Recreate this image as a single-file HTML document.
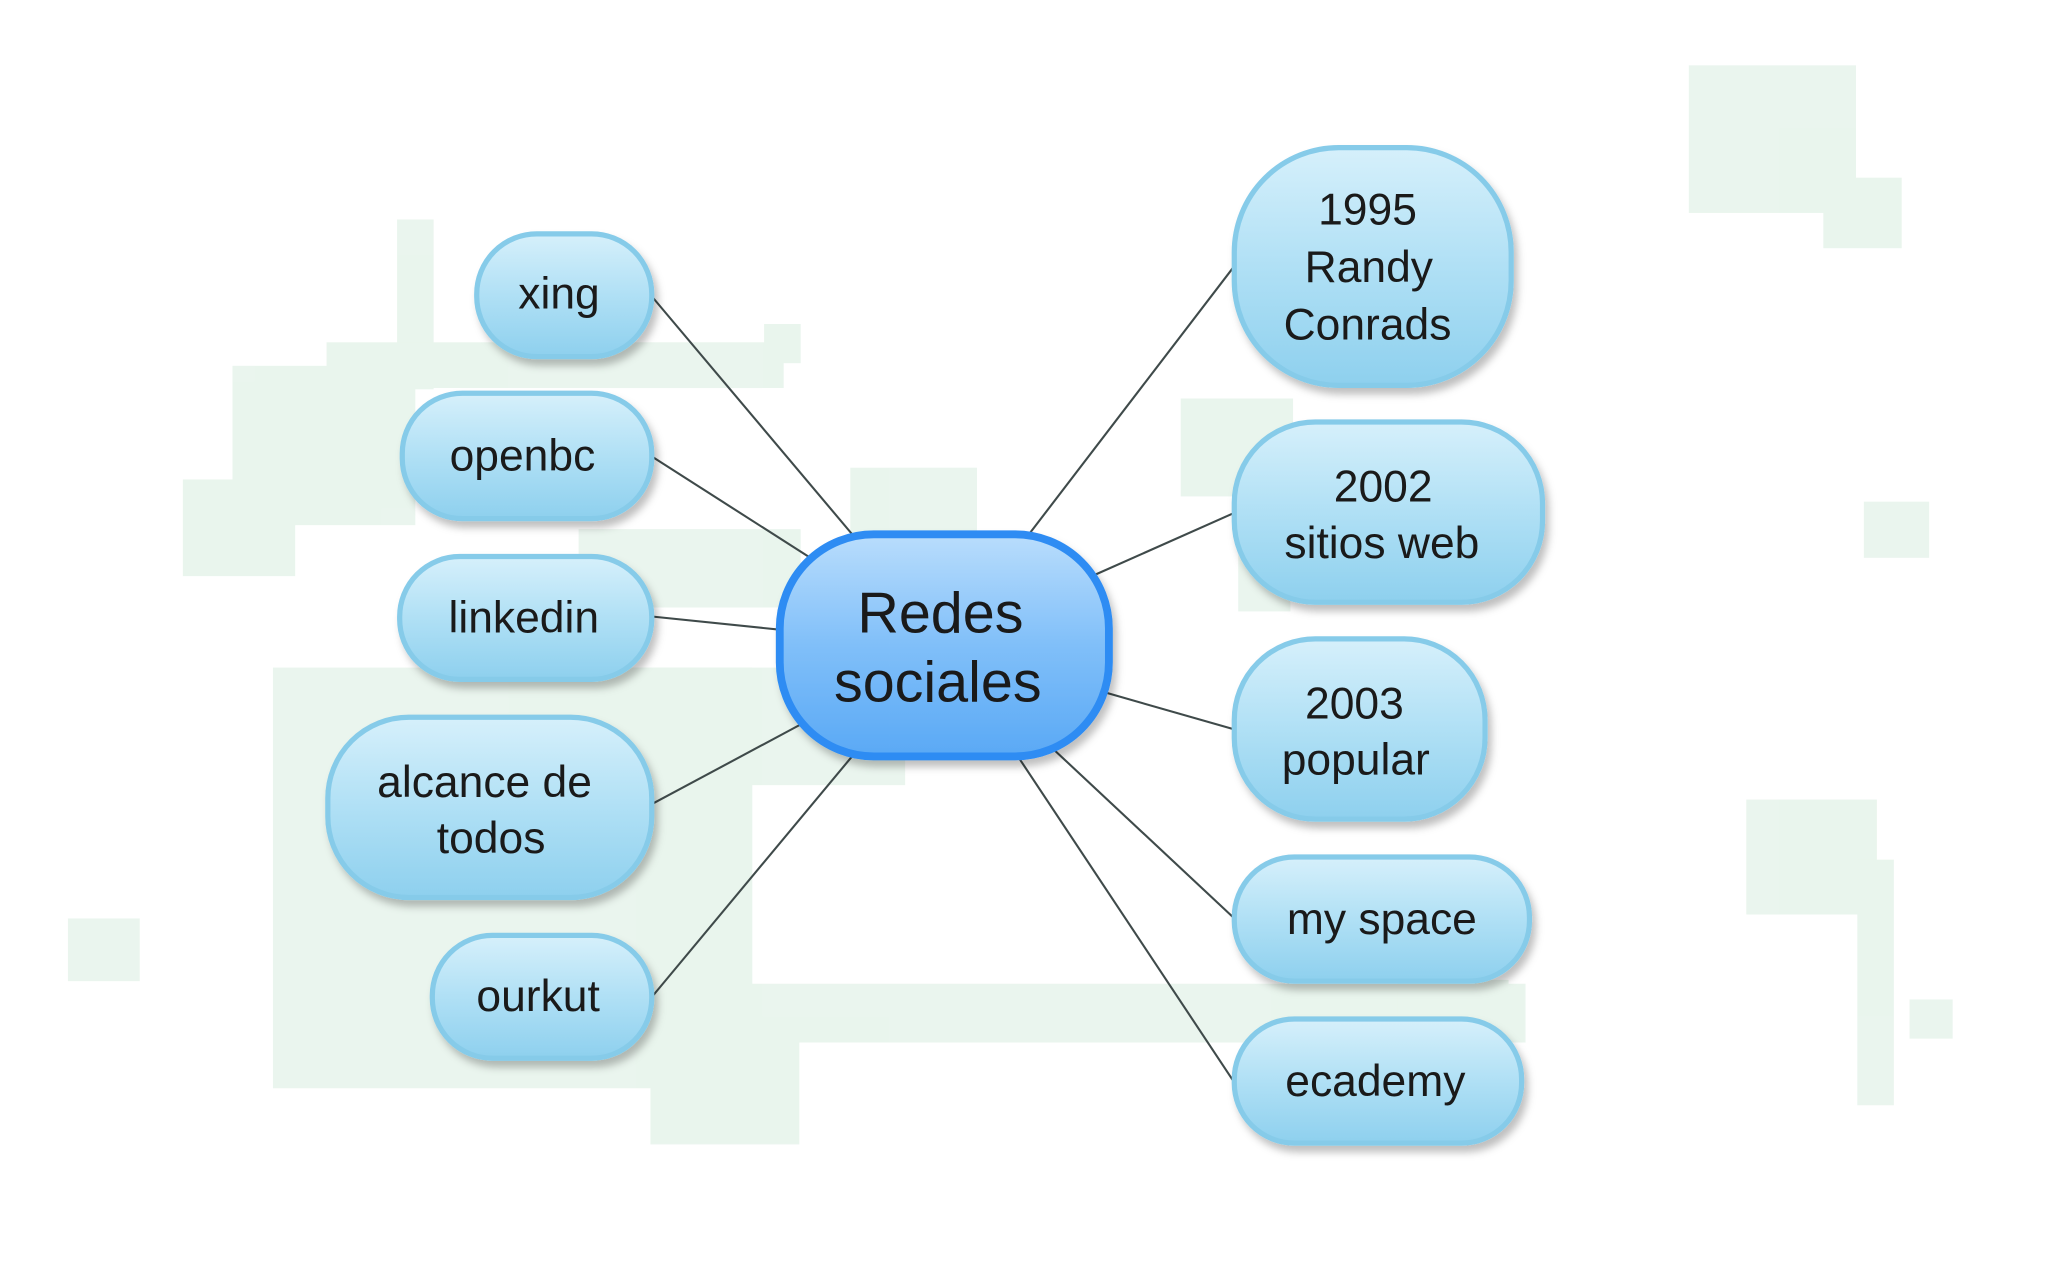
<!DOCTYPE html>
<html><head><meta charset="utf-8"><style>html,body{margin:0;padding:0;background:#fff}svg{display:block}</style></head><body>
<svg width="2048" height="1279" viewBox="0 0 1568 979" preserveAspectRatio="none" xmlns="http://www.w3.org/2000/svg">
<defs>
<linearGradient id="lg" x1="0" y1="0" x2="0" y2="1"><stop offset="0" stop-color="#d6f0fb"/><stop offset="0.5" stop-color="#b0e0f5"/><stop offset="1" stop-color="#8ed0ee"/></linearGradient>
<linearGradient id="cg" x1="0" y1="0" x2="0" y2="1"><stop offset="0" stop-color="#b9ddfc"/><stop offset="0.5" stop-color="#80bff9"/><stop offset="1" stop-color="#5aa9f5"/></linearGradient>
<filter id="sh" x="-20%" y="-20%" width="140%" height="150%"><feDropShadow dx="3" dy="5" stdDeviation="3" flood-color="#000" flood-opacity="0.25"/></filter>
</defs>
<g fill="#dcefe2" opacity="0.6">
<rect x="1293" y="50" width="128" height="113"/><rect x="1396" y="136" width="60" height="54"/>
<rect x="304" y="168" width="28" height="130"/><rect x="250" y="262" width="350" height="35"/>
<rect x="585" y="248" width="28" height="30"/><rect x="178" y="280" width="140" height="122"/>
<rect x="140" y="367" width="86" height="74"/><rect x="904" y="305" width="86" height="75"/>
<rect x="651" y="358" width="97" height="50"/><rect x="443" y="405" width="170" height="60"/>
<rect x="948" y="350" width="40" height="118"/><rect x="1427" y="384" width="50" height="43"/>
<rect x="209" y="511" width="367" height="322"/><rect x="470" y="511" width="223" height="90"/>
<rect x="52" y="703" width="55" height="48"/><rect x="1337" y="612" width="100" height="88"/>
<rect x="1422" y="658" width="28" height="188"/><rect x="528" y="753" width="640" height="45"/>
<rect x="498" y="780" width="114" height="96"/><rect x="1462" y="765" width="33" height="30"/>
<rect x="1070" y="750" width="85" height="30"/>
</g>
<g stroke="#3f4a4a" stroke-width="1.6" fill="none">
<line x1="500" y1="228" x2="655" y2="412"/><line x1="500" y1="350" x2="622" y2="428"/>
<line x1="500" y1="472" x2="597" y2="482"/><line x1="500" y1="615" x2="614" y2="554"/>
<line x1="500" y1="762" x2="654" y2="577"/><line x1="944" y1="205" x2="787" y2="410"/>
<line x1="944" y1="393" x2="836" y2="441"/><line x1="944" y1="558" x2="846" y2="530"/>
<line x1="944" y1="702" x2="806" y2="573"/><line x1="944" y1="827" x2="780" y2="580"/>
</g>
<g fill="url(#lg)" stroke="#86cbe9" stroke-width="4" filter="url(#sh)">
<rect x="365" y="179" width="134" height="94" rx="46"/>
<rect x="308" y="301" width="191" height="96" rx="46"/>
<rect x="306" y="426" width="193" height="94" rx="46"/>
<rect x="251" y="549" width="248" height="138" rx="62"/>
<rect x="331" y="716" width="168" height="94" rx="46"/>
<rect x="945" y="113" width="212" height="182" rx="80"/>
<rect x="945" y="323" width="236" height="138" rx="62"/>
<rect x="945" y="489" width="192" height="138" rx="62"/>
<rect x="945" y="656" width="226" height="95" rx="46"/>
<rect x="945" y="780" width="220" height="95" rx="46"/>
</g>
<rect x="597" y="409" width="252" height="170" rx="72" fill="url(#cg)" stroke="#2d8cf3" stroke-width="6" filter="url(#sh)"/>
<g font-family="Liberation Sans, sans-serif" font-size="34" fill="#1a1a1a" text-anchor="middle">
<text x="428" y="236">xing</text>
<text x="400" y="360">openbc</text>
<text x="401" y="484">linkedin</text>
<text x="371" y="610">alcance de</text><text x="376" y="653">todos</text>
<text x="412" y="774">ourkut</text>
<text x="1047" y="172">1995</text><text x="1048" y="216">Randy</text><text x="1047" y="260">Conrads</text>
<text x="1059" y="384">2002</text><text x="1058" y="427">sitios web</text>
<text x="1037" y="550">2003</text><text x="1038" y="593">popular</text>
<text x="1058" y="715">my space</text>
<text x="1053" y="839">ecademy</text>
<text x="720" y="484" font-size="44">Redes</text><text x="718" y="537" font-size="44">sociales</text>
</g>
</svg>
</body></html>
